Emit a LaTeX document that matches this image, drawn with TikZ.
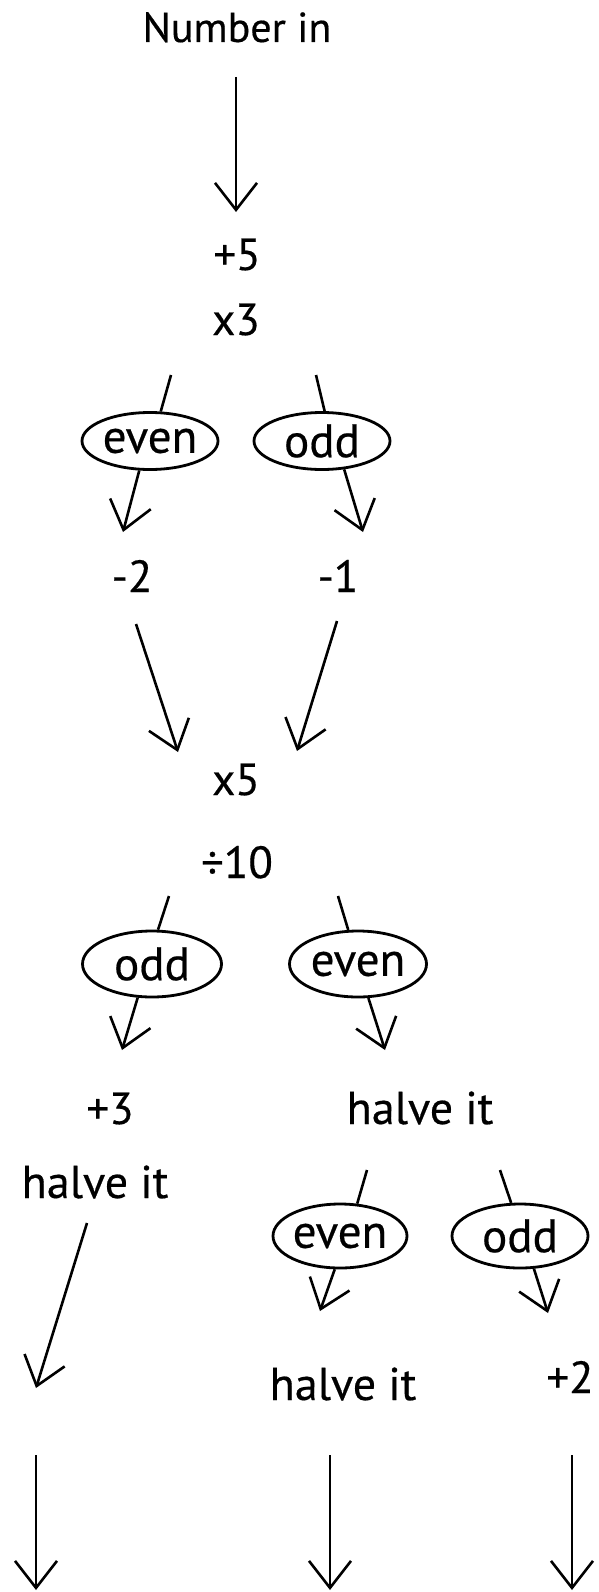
\documentclass[tikz,border=0pt]{standalone}
\usepackage{fontspec}
\setmainfont{PT Sans}[FakeBold=0.4]
\usetikzlibrary{arrows.meta,shapes.geometric}
\begin{document}
\begin{tikzpicture}[x=1pt,y=-1pt,
  lbl/.style={inner sep=0pt, anchor=base, font=\fontsize{42}{50}\selectfont},
  numlbl/.style={lbl, font=\fontsize{45}{54}\selectfont},
  biglbl/.style={lbl, font=\fontsize{46}{54}\selectfont},
  oval/.style={draw, ellipse, line width=2.8pt, inner sep=0pt, font=\fontsize{47}{56}\selectfont},
  conn/.style={line width=2.6pt},
  arr/.style={conn, -{Straight Barb[length=27pt,width=42pt]}},
]
\useasboundingbox (0,0) rectangle (599,1592);
% text nodes
\node[lbl] (numin) at (237,42) {Number in};
\node[numlbl] (p5) at (237,270) {+5};
\node[numlbl] (x3) at (236,335) {x3};
\node[oval, minimum width=136pt, minimum height=57pt] (e1) at (150,441) {even};
\node[oval, minimum width=136pt, minimum height=57pt] (e2) at (322,441) {odd};
\node[numlbl] (m2) at (132,592) {-2};
\node[numlbl] (m1) at (338,592) {-1};
\node[numlbl] (x5) at (236,795) {x5};
\node[numlbl] (d10) at (237,878) {÷10};
\node[oval, minimum width=139pt, minimum height=66pt] (e3) at (152,964) {odd};
\node[oval, minimum width=137pt, minimum height=66pt] (e4) at (358,964) {even};
\node[numlbl] (p3) at (110,1124) {+3};
\node[biglbl] (h1) at (420,1124) {halve it};
\node[biglbl] (h2) at (95,1198) {halve it};
\node[oval, minimum width=134pt, minimum height=64pt] (e5) at (340,1236) {even};
\node[oval, minimum width=136pt, minimum height=64pt] (e6) at (520,1236) {odd};
\node[biglbl] (h3) at (343,1400) {halve it};
\node[numlbl] (p2) at (570,1393) {+2};
% free connector ends
\coordinate (c1) at (236,77);   \coordinate (c2) at (236,212);
\coordinate (c3) at (171,375);  \coordinate (c4) at (316,375);
\coordinate (c5) at (123,532);  \coordinate (c6) at (363,532);
\coordinate (c7) at (136,624);  \coordinate (c8) at (178,752);
\coordinate (c9) at (337,621);  \coordinate (c10) at (297,751);
\coordinate (c11) at (169,896); \coordinate (c12) at (338,896);
\coordinate (c13) at (122,1050); \coordinate (c14) at (385,1050);
\coordinate (c15) at (87,1223); \coordinate (c16) at (36,1388);
\coordinate (c17) at (367,1170); \coordinate (c18) at (500,1170);
\coordinate (c19) at (320,1311); \coordinate (c20) at (548,1313);
\coordinate (c21) at (36,1455);  \coordinate (c22) at (36,1590);
\coordinate (c23) at (330,1455); \coordinate (c24) at (330,1590);
\coordinate (c25) at (572,1455); \coordinate (c26) at (572,1590);
% connectors
\draw[arr] (c1) -- (c2);
\draw[conn] (c3) -- (e1.70);
\draw[conn] (c4) -- (e2.85);
\draw[arr] (e1.-110) -- (c5);
\draw[arr] (e2.-52) -- (c6);
\draw[arr] (c7) -- (c8);
\draw[arr] (c9) -- (c10);
\draw[conn] (c11) -- (e3.80);
\draw[conn] (c12) -- (e4.106);
\draw[arr] (e3.-113) -- (c13);
\draw[arr] (e4.-73) -- (c14);
\draw[arr] (c15) -- (c16);
\draw[conn] (c17) -- (e5.62);
\draw[conn] (c18) -- (e6.105);
\draw[arr] (e5.-99) -- (c19);
\draw[arr] (e6.-67) -- (c20);
\draw[arr] (c21) -- (c22);
\draw[arr] (c23) -- (c24);
\draw[arr] (c25) -- (c26);
\end{tikzpicture}
\end{document}
